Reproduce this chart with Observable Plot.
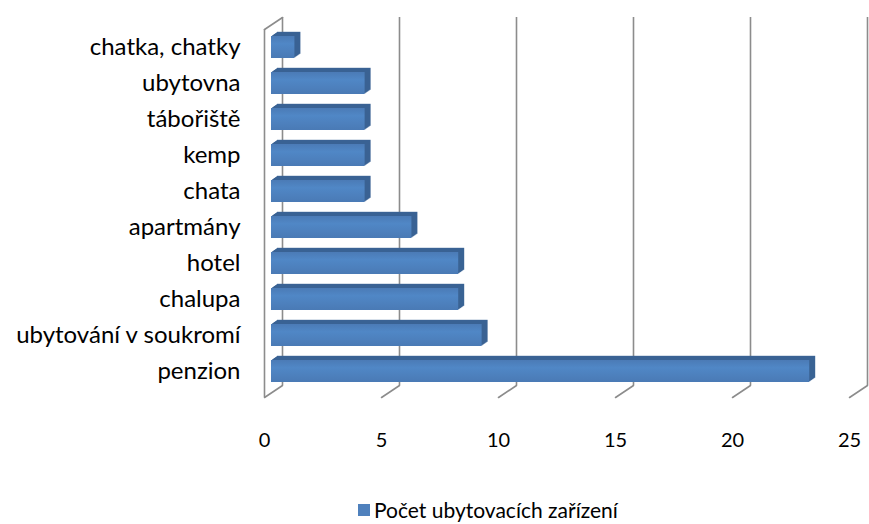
<!DOCTYPE html>
<html><head><meta charset="utf-8">
<script src="https://cdn.jsdelivr.net/npm/d3@7"></script>
<script src="https://cdn.jsdelivr.net/npm/@observablehq/plot@0.6"></script>
<style>
body{margin:0;background:#fff;font-family:Lato,sans-serif;overflow:hidden;}
#legend{display:flex;align-items:center;height:26px;margin-top:2px;padding-left:358px;font-size:21px;line-height:26px;color:#000;}
#legend .sw{width:12px;height:12px;background:#4F81BD;margin-right:4px;}
</style>
</head><body>
<div id="chart"></div>
<div id="legend"><span class="sw"></span><span>Počet ubytovacích zařízení</span></div>
<script>
const categories = ["penzion","ubytování v soukromí","chalupa","hotel","apartmány","chata","kemp","tábořiště","ubytovna","chatka, chatky"];
const values = [23,9,8,8,6,4,4,4,4,1];
const xTicks = [0,5,10,15,20,25];
const seriesName = "Počet ubytovacích zařízení";

const data = categories.map((c,i)=>({category:c, value:values[i]}));

const gridColor = "#8c8c8c";
const defs = () => {
  const ns = "http://www.w3.org/2000/svg";
  const d = document.createElementNS(ns,"defs");
  d.innerHTML = `<linearGradient id="barGrad" x1="0" y1="0" x2="0" y2="1">
    <stop offset="0" stop-color="#4B7BB6"/>
    <stop offset="0.35" stop-color="#5087C6"/>
    <stop offset="1" stop-color="#4A7AB5"/></linearGradient>`;
  return d;
};

const extrude = [];
for (let k = 6; k >= 1; k--) {
  extrude.push(Plot.barX(data, {x:"value", y:"category", dx: 7 + k, dy: -k*0.7, fill:"#3A6394"}));
}

const chart = Plot.plot({
  width: 869, height: 495,
  marginTop: 17, marginBottom: 110, marginLeft: 264, marginRight: 20,
  style: {fontFamily: "Lato, sans-serif", background: "#fff", color: "#000"},
  x: {domain: [0,25]},
  y: {domain: categories.slice().reverse(), range: [25.1, 392.3], paddingInner: 0.4, paddingOuter: 0.2},
  marks: [
    defs,
    Plot.ruleX(xTicks, {x: d=>d, dx: 18, stroke: gridColor, strokeWidth: 1.6}),
    Plot.ruleX([0], {x: d=>d, dy: 12, stroke: gridColor, strokeWidth: 1.6}),
    Plot.vector(xTicks, {x: d=>d, frameAnchor: "bottom", dx: 18, anchor: "end", length: 21.6, rotate: 56.3, stroke: gridColor, strokeWidth: 1.6,
      shape: {draw(ctx, l){ ctx.moveTo(0,0); ctx.lineTo(0,-l); }}}),
    Plot.vector([0], {x: d=>d, frameAnchor: "top", dx: 18, anchor: "end", length: 21.6, rotate: 56.3, stroke: gridColor, strokeWidth: 1.6,
      shape: {draw(ctx, l){ ctx.moveTo(0,0); ctx.lineTo(0,-l); }}}),
    ...extrude,
    Plot.barX(data, {x:"value", y:"category", dx: 7, fill:"url(#barGrad)"}),
    Plot.axisY({tickSize: 0, tickPadding: 24, fontSize: 24, label: null}),
    Plot.axisX({ticks: xTicks, tickSize: 0, tickPadding: 47, fontSize: 20, label: null})
  ]
});
document.getElementById("chart").appendChild(chart);
</script>
</body></html>
